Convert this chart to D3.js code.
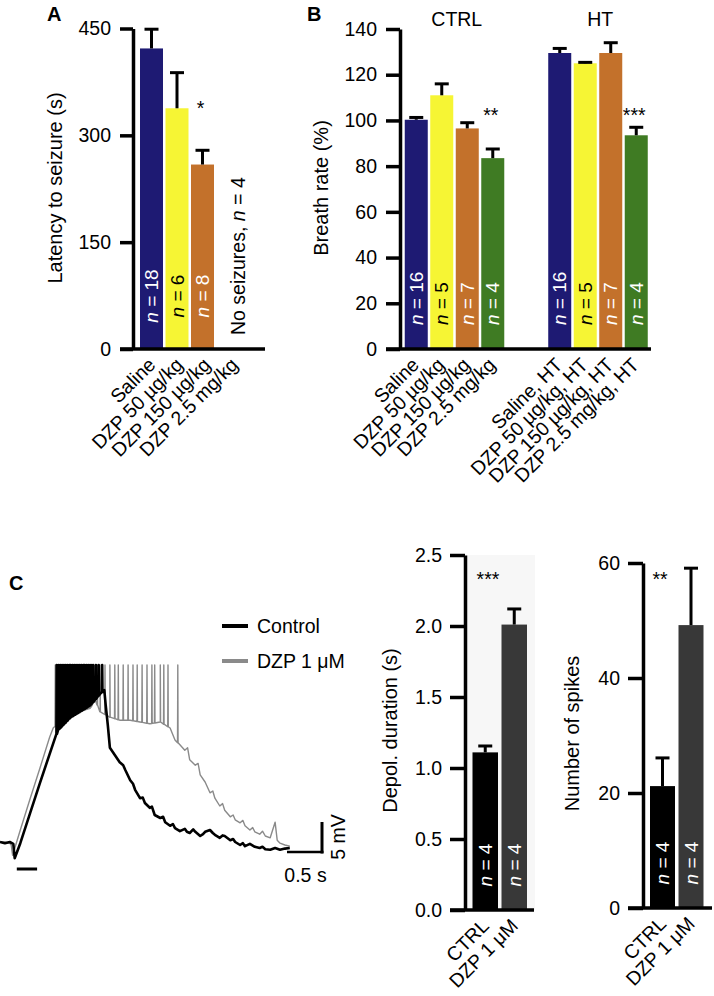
<!DOCTYPE html>
<html><head><meta charset="utf-8">
<script src="https://cdn.jsdelivr.net/npm/d3@7"></script>
<style>
body{margin:0;background:#fff;}
svg{display:block;}
</style></head><body>
<svg id="fig" width="714" height="996"></svg>
<script>
// ---------------- DATA ----------------
// Panel A
const aCategories = ["Saline", "DZP 50 µg/kg", "DZP 150 µg/kg", "DZP 2.5 mg/kg"];
const aValues = [422, 338, 259, null];
const aErrors = [27, 50, 20, null];
const aN = ["18", "6", "8", null];
const aSig = ["", "", "*", ""];
const aTicks = [0, 150, 300, 450];
const aNote = ["No seizures, ", "n", " = 4"];

// Panel B
const bGroups = ["CTRL", "HT"];
const bCategories = ["Saline", "DZP 50 µg/kg", "DZP 150 µg/kg", "DZP 2.5 mg/kg",
  "Saline, HT", "DZP 50 µg/kg, HT", "DZP 150 µg/kg, HT", "DZP 2.5 mg/kg, HT"];
const bGroupOf = [0, 0, 0, 0, 1, 1, 1, 1];
const bValues = [100.3, 111, 96.5, 83.5, 129.5, 125, 129.5, 93.5];
const bErrors = [1, 5, 2.5, 4, 2, 0.4, 4.5, 3.5];
const bN = ["16", "5", "7", "4", "16", "5", "7", "4"];
const bSig = ["", "", "", "**", "", "", "", "***"];
const bTicks = [0, 20, 40, 60, 80, 100, 120, 140];

// Panel C traces: [time (s), membrane potential (mV)]
const controlTrace = [
  [0.00,0.5],[0.07,0.3],[0.14,0.5],[0.19,0.2],[0.21,-2.2],[0.29,0.3],[0.43,5.3],[0.57,10.3],
  [0.71,15.2],[0.83,19.2],[0.86,19.5],[1.00,21.2],[1.14,22.2],[1.29,23.3],[1.43,25.2],[1.49,25.8],
  [1.51,23.3],[1.54,20.0],[1.57,16.2],[1.64,15.0],[1.71,13.8],[1.76,13.3],[1.79,12.5],[1.86,10.8],
  [1.90,10.2],[1.93,9.2],[2.00,7.8],[2.04,7.9],[2.07,7.0],[2.14,6.2],[2.17,6.4],[2.21,5.0],
  [2.29,4.5],[2.33,4.7],[2.36,3.8],[2.43,3.2],[2.47,3.5],[2.50,2.8],[2.57,2.3],[2.64,2.7],
  [2.67,2.2],[2.71,2.0],[2.76,2.6],[2.79,2.2],[2.86,1.5],[2.90,1.8],[2.93,2.2],[3.00,2.5],
  [3.04,2.0],[3.07,1.7],[3.14,1.2],[3.18,1.6],[3.21,1.5],[3.29,0.8],[3.33,1.0],[3.36,0.5],
  [3.43,0.0],[3.47,0.3],[3.50,-0.2],[3.57,0.2],[3.64,-0.3],[3.71,-0.5],[3.75,-0.3],[3.79,-0.7],
  [3.86,-0.8],[3.93,-0.5],[4.00,-0.8],[4.07,-0.6],[4.14,-0.5]
];
const dzpTrace = [
  [0.00,0.5],[0.07,0.5],[0.14,0.3],[0.16,0.0],[0.18,-1.7],[0.29,2.5],[0.43,7.7],[0.57,12.8],
  [0.71,18.0],[0.76,19.5],[0.86,20.5],[1.00,21.5],[1.14,22.2],[1.29,22.8],[1.36,24.2],[1.43,22.2],
  [1.57,21.3],[1.71,20.8],[1.86,20.8],[2.00,20.5],[2.14,20.2],[2.29,20.5],[2.43,19.5],[2.50,17.5],
  [2.57,16.7],[2.64,15.8],[2.68,16.2],[2.71,14.2],[2.79,13.3],[2.83,13.6],[2.86,11.7],[2.93,10.5],
  [3.00,8.7],[3.04,9.0],[3.07,7.8],[3.14,6.5],[3.18,6.9],[3.21,5.8],[3.29,4.7],[3.33,5.0],
  [3.36,4.2],[3.43,3.7],[3.47,4.1],[3.50,3.2],[3.57,2.5],[3.61,2.9],[3.64,2.2],[3.71,1.8],
  [3.75,2.3],[3.79,1.5],[3.86,1.2],[3.93,3.8],[3.96,0.8],[4.00,0.3],[4.07,0.0],[4.14,-0.2]
];
const controlSpikes = [0.81,0.84,0.87,0.90,0.93,0.96,0.99,1.01,1.04,1.07,1.10,1.13,1.16,1.19,
  1.21,1.24,1.27,1.30,1.33,1.37,1.41,1.46];
const dzpSpikes = [0.79,0.81,0.84,0.87,0.90,0.93,0.96,0.99,1.01,1.04,1.07,1.10,1.13,1.16,1.19,
  1.21,1.24,1.27,1.30,1.34,1.39,1.43,1.50,1.57,1.64,1.69,1.76,1.83,1.90,1.96,2.03,2.10,2.17,
  2.21,2.29,2.34,2.40,2.54];
const spikePeak = 30;          // mV
const stimulus = [0.24, 0.53]; // s
const scaleBarTime = 0.5;      // s
const scaleBarVolt = 5;        // mV
const legendLabels = ["Control", "DZP 1 μM"];

// Panel C bar charts
const cCategories = ["CTRL", "DZP 1 μM"];
const cDurValues = [1.11, 2.01];
const cDurErrors = [0.045, 0.11];
const cDurTicks = [0, 0.5, 1.0, 1.5, 2.0, 2.5];
const cSpikeValues = [21.2, 49.2];
const cSpikeErrors = [4.9, 9.9];
const cSpikeTicks = [0, 20, 40, 60];
const cN = ["4", "4"];

// ---------------- STYLE ----------------
const FONT = '"Liberation Sans", Arial, Helvetica, sans-serif';
const FS = 19.5;
const FT = 20;
const drugColors = ["#1e1a73", "#f6f534", "#c3712b", "#3f7b23"];
const drugText = ["#fff", "#000", "#fff", "#fff"];
const cColors = ["#000", "#383838"];

const svg = d3.select("#fig").attr("font-family", FONT);

function yAxis(scale, ticks, x, fmt, tickLen, pad) {
  const ax = d3.axisLeft(scale).tickValues(ticks).tickSize(tickLen).tickSizeOuter(0)
    .tickPadding(pad).tickFormat(fmt);
  const g = svg.append("g").attr("transform", `translate(${x},0)`).call(ax);
  g.attr("font-family", FONT).attr("font-size", FS);
  g.select(".domain").attr("stroke", "#000").attr("stroke-width", 3.5);
  g.selectAll(".tick line").attr("stroke", "#000").attr("stroke-width", 3.5);
  g.selectAll(".tick text").attr("fill", "#000");
  return g;
}
function hLine(x1, x2, y, w) {
  svg.append("line").attr("x1", x1).attr("x2", x2).attr("y1", y).attr("y2", y)
    .attr("stroke", "#000").attr("stroke-width", w || 3.5);
}
function rotTitle(text, x, y) {
  svg.append("text").attr("transform", `translate(${x},${y}) rotate(-90)`)
    .attr("text-anchor", "middle").attr("font-size", FT).text(text);
}
function xLabel(text, x, y) {
  svg.append("text").attr("transform", `translate(${x},${y}) rotate(-45)`)
    .attr("text-anchor", "end").attr("font-size", FS).text(text);
}
function nLabel(n, x, y, color, anchor) {
  const t = svg.append("text").attr("transform", `translate(${x},${y}) rotate(-90)`)
    .attr("text-anchor", anchor).attr("dy", "0.35em").attr("font-size", 19).attr("fill", color);
  t.append("tspan").attr("font-style", "italic").text("n");
  t.append("tspan").text(" = " + n);
}
function errBar(cx, yTop, yErr) {
  svg.append("line").attr("x1", cx).attr("x2", cx).attr("y1", yTop).attr("y2", yErr)
    .attr("stroke", "#000").attr("stroke-width", 3);
  svg.append("line").attr("x1", cx - 7).attr("x2", cx + 7).attr("y1", yErr).attr("y2", yErr)
    .attr("stroke", "#000").attr("stroke-width", 3);
}
function panelLetter(l, x, y) {
  svg.append("text").attr("x", x).attr("y", y).attr("font-size", 20).attr("font-weight", "bold").text(l);
}

// ---------------- PANEL A ----------------
panelLetter("A", 47, 21);
const xA = d3.scaleBand().domain(aCategories).range([139, 241]).padding(0);
const yA = d3.scaleLinear().domain([0, 450]).range([349, 28.5]);
aCategories.forEach((c, i) => {
  if (aValues[i] == null) return;
  const x0 = xA(c) + 1, w = xA.step() - 2.5, cx = x0 + w / 2;
  svg.append("rect").attr("x", x0).attr("y", yA(aValues[i])).attr("width", w)
    .attr("height", yA(0) - yA(aValues[i])).attr("fill", drugColors[i]);
  errBar(cx, yA(aValues[i]), yA(aValues[i] + aErrors[i]));
  nLabel(aN[i], cx, yA(0) - 53, drugText[i], "middle");
  if (aSig[i]) svg.append("text").attr("x", cx - 2).attr("y", 115).attr("text-anchor", "middle")
    .attr("font-size", FS).text(aSig[i]);
});
{
  const c = aCategories[3];
  const t = svg.append("text").attr("transform", `translate(${xA(c) + 23},${yA(0) - 14}) rotate(-90)`)
    .attr("dy", "0.35em").attr("font-size", FS);
  t.append("tspan").text(aNote[0]);
  t.append("tspan").attr("font-style", "italic").text(aNote[1]);
  t.append("tspan").text(aNote[2]);
}
yAxis(yA, aTicks, 133, d3.format("d"), 13, 9);
hLine(120, 265, yA(0));
aCategories.forEach((c, i) => xLabel(c, xA(c) + xA.step() / 2 + 5 + i * 2, yA(0) + 17));
rotTitle("Latency to seizure (s)", 62, 188);

// ---------------- PANEL B ----------------
panelLetter("B", 307, 21);
const xBG = d3.scaleBand().domain(bGroups).range([403.75, 649.25]).paddingInner(0.289).paddingOuter(0);
const xBI = d3.scaleBand().domain([0, 1, 2, 3]).range([0, xBG.bandwidth()]).padding(0);
const yB = d3.scaleLinear().domain([0, 140]).range([349, 29]);
const bx = i => xBG(bGroups[bGroupOf[i]]) + xBI(i % 4);
bCategories.forEach((c, i) => {
  const x0 = bx(i) + 1, w = xBI.step() - 2.5, cx = x0 + w / 2, k = i % 4;
  svg.append("rect").attr("x", x0).attr("y", yB(bValues[i])).attr("width", w)
    .attr("height", yB(0) - yB(bValues[i])).attr("fill", drugColors[k]);
  errBar(cx, yB(bValues[i]), yB(bValues[i] + bErrors[i]));
  nLabel(bN[i], cx, yB(0) - 24, drugText[k], "start");
  if (bSig[i]) svg.append("text").attr("x", cx - 2).attr("y", 122).attr("text-anchor", "middle")
    .attr("font-size", FS).text(bSig[i]);
  xLabel(c, cx + 4, yB(0) + 17);
});
bGroups.forEach(g => {
  svg.append("text").attr("x", xBG(g) + xBG.bandwidth() / 2 + 2).attr("y", 26)
    .attr("text-anchor", "middle").attr("font-size", 19.5).text(g);
});
yAxis(yB, bTicks, 400, d3.format("d"), 14, 9);
hLine(386, 651, yB(0));
rotTitle("Breath rate (%)", 328, 188);

// ---------------- PANEL C : trace ----------------
panelLetter("C", 9, 590);
const tx = d3.scaleLinear().domain([0, 4.2]).range([0, 294]);
const ty = d3.scaleLinear().domain([0, 30]).range([845, 665]);
const bis = d3.bisector(d => d[0]).left;
function envAt(tr, t) {
  const i = Math.max(1, Math.min(tr.length - 1, bis(tr, t)));
  const a = tr[i - 1], b = tr[i];
  const f = (t - a[0]) / (b[0] - a[0]);
  return a[1] + f * (b[1] - a[1]);
}
function tracePoints(tr, spikes) {
  const pts = tr.slice();
  spikes.forEach(s => {
    const e = envAt(tr, s);
    pts.push([s - 0.004, e], [s, spikePeak], [s + 0.004, e]);
  });
  return pts.sort((a, b) => a[0] - b[0]);
}
const line = d3.line().x(d => tx(d[0])).y(d => ty(d[1]));
svg.append("path").attr("d", line(tracePoints(dzpTrace, dzpSpikes)))
  .attr("fill", "none").attr("stroke", "#8a8a8a").attr("stroke-width", 1.4).attr("stroke-linejoin", "round");
svg.append("path").attr("d", line(tracePoints(controlTrace, controlSpikes)))
  .attr("fill", "none").attr("stroke", "#000").attr("stroke-width", 2.6).attr("stroke-linejoin", "round");

// stimulus bar
svg.append("line").attr("x1", tx(stimulus[0])).attr("x2", tx(stimulus[1]))
  .attr("y1", 869).attr("y2", 869).attr("stroke", "#000").attr("stroke-width", 3);

// scale bar
{
  const xr = 322, yb = 852;
  const len = tx(scaleBarTime) - tx(0), hgt = ty(0) - ty(scaleBarVolt);
  svg.append("line").attr("x1", xr).attr("x2", xr).attr("y1", yb + 1.5).attr("y2", yb - hgt)
    .attr("stroke", "#000").attr("stroke-width", 3);
  svg.append("line").attr("x1", xr - len).attr("x2", xr + 1.5).attr("y1", yb).attr("y2", yb)
    .attr("stroke", "#000").attr("stroke-width", 2.5);
  svg.append("text").attr("x", xr - len / 2 + 1).attr("y", yb + 30).attr("text-anchor", "middle")
    .attr("font-size", FS).text(scaleBarTime + " s");
  svg.append("text").attr("transform", `translate(${xr + 23},${yb - hgt / 2}) rotate(-90)`)
    .attr("text-anchor", "middle").attr("font-size", FS).text(scaleBarVolt + " mV");
}
// legend
legendLabels.forEach((l, i) => {
  const y = 626 + i * 35;
  svg.append("line").attr("x1", 222).attr("x2", 248).attr("y1", y).attr("y2", y)
    .attr("stroke", i === 0 ? "#000" : "#8a8a8a").attr("stroke-width", 4);
  svg.append("text").attr("x", 257).attr("y", y + 7).attr("font-size", FS).text(l);
});

// ---------------- PANEL C : bar charts ----------------
function cBars(values, errors, ticks, yScale, axisX, range, xEnd, fmt, sig, sigX, title, titleX) {
  const x = d3.scaleBand().domain(cCategories).range(range).padding(0);
  cCategories.forEach((c, i) => {
    const x0 = x(c) + 1.5, w = x.step() - 3.5, cx = x0 + w / 2;
    svg.append("rect").attr("x", x0).attr("y", yScale(values[i])).attr("width", w)
      .attr("height", yScale(0) - yScale(values[i])).attr("fill", cColors[i]);
    errBar(cx, yScale(values[i]), yScale(values[i] + errors[i]));
    nLabel(cN[i], cx, yScale(0) - 45, "#fff", "middle");
    xLabel(c, cx + 5, yScale(0) + 17);
  });
  yAxis(yScale, ticks, axisX, fmt, 15, 8);
  hLine(axisX - 15, xEnd, yScale(0));
  svg.append("text").attr("x", sigX).attr("y", 586).attr("text-anchor", "middle")
    .attr("font-size", FS).text(sig);
  rotTitle(title, titleX, (yScale.range()[0] + yScale.range()[1]) / 2 - 2);
}
const yC1 = d3.scaleLinear().domain([0, 2.5]).range([910, 555]);
svg.append("rect").attr("x", 467).attr("y", 555).attr("width", 68).attr("height", 355).attr("fill", "#f7f7f7");
cBars(cDurValues, cDurErrors, cDurTicks, yC1, 465, [471, 529], 534, d3.format(".1f"), "***", 488,
  "Depol. duration (s)", 397);
const yC2 = d3.scaleLinear().domain([0, 60]).range([908, 563]);
cBars(cSpikeValues, cSpikeErrors, cSpikeTicks, yC2, 643, [648.5, 705.5], 712, d3.format("d"), "**", 660,
  "Number of spikes", 579);
</script>
</body></html>
